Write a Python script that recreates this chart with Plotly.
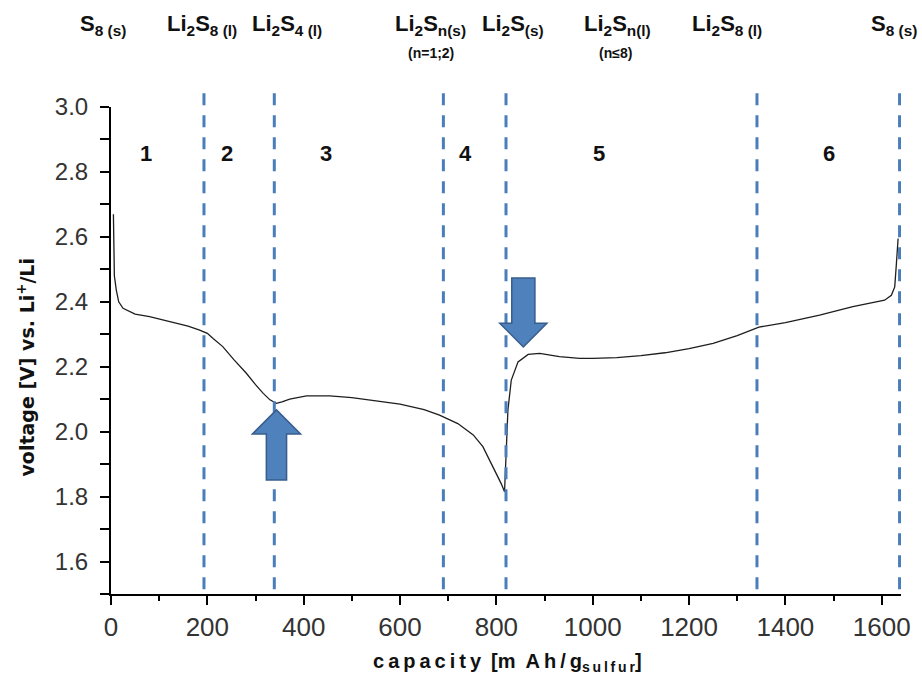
import plotly.graph_objects as go

# ---------------- data ----------------
capacity = [5, 5.5, 7, 11, 16, 25, 50, 80, 120, 160, 184, 200, 212, 232, 255, 281, 300, 316, 330,
            343, 355, 371, 406, 454, 500, 550, 600, 650, 682, 720, 752, 772, 793, 810, 817,
            819, 821, 824, 831, 845, 866, 890, 931, 973, 1000, 1050, 1100, 1150, 1200, 1250,
            1300, 1345, 1400, 1471, 1540, 1606, 1620, 1627, 1630, 1634]
voltage = [2.67, 2.55, 2.48, 2.436, 2.40, 2.38, 2.362, 2.354, 2.340, 2.325, 2.313, 2.303, 2.287,
           2.262, 2.222, 2.18, 2.145, 2.118, 2.098, 2.087, 2.092, 2.10, 2.11, 2.11, 2.105, 2.095,
           2.085, 2.068, 2.051, 2.025, 1.99, 1.954, 1.892, 1.84, 1.815, 1.90, 2.00, 2.067, 2.159,
           2.215, 2.238, 2.241, 2.231, 2.226, 2.226, 2.228, 2.234, 2.243, 2.256, 2.272, 2.296,
           2.322, 2.336, 2.359, 2.385, 2.405, 2.42, 2.446, 2.508, 2.595]

x_ticks = [0, 200, 400, 600, 800, 1000, 1200, 1400, 1600]
y_ticks = [1.6, 1.8, 2.0, 2.2, 2.4, 2.6, 2.8, 3.0]
x_range = [0, 1640]

boundaries = [193, 339, 690, 820, 1341, 1637]
region_labels = ["1", "2", "3", "4", "5", "6"]
region_x = [73, 240, 447, 736, 1014, 1490]
region_v = 2.858

species_labels = ["S<sub>8 (s)</sub>", "Li<sub>2</sub>S<sub>8 (l)</sub>", "Li<sub>2</sub>S<sub>4 (l)</sub>",
                  "Li<sub>2</sub>S<sub>n(s)</sub>", "Li<sub>2</sub>S<sub>(s)</sub>",
                  "Li<sub>2</sub>S<sub>n(l)</sub>", "Li<sub>2</sub>S<sub>8 (l)</sub>", "S<sub>8 (s)</sub>"]
species_x = [-17, 188, 365, 664, 834, 1052, 1279, 1625]
species_notes = ["(n=1;2)", "(n≤8)"]
species_notes_x = [664, 1048]

# arrows (capacity, voltage) geometry: centre, half shaft, half head, base, head base, tip
up_arrow = dict(xc=343.5, shaft=21, head=50, base=1.851, neck=1.993, tip=2.067)
down_arrow = dict(xc=856, shaft=24, head=49, base=2.473, neck=2.334, tip=2.261)

# ---------------- figure ----------------
fig = go.Figure()
fig.add_trace(go.Scatter(x=capacity, y=voltage, mode="lines",
                         line=dict(color="#1e1e1e", width=1.3), hoverinfo="skip",
                         showlegend=False))

shapes = []
for b in boundaries:
    shapes.append(dict(type="line", xref="x", yref="paper", x0=b, x1=b, y0=0.01, y1=1.045,
                       line=dict(color="#4a7ebb", width=3, dash="12px,10px"), layer="above"))


def arrow_path(a):
    xc, s, h = a["xc"], a["shaft"], a["head"]
    return (f"M {xc - s},{a['base']} L {xc - s},{a['neck']} L {xc - h},{a['neck']} "
            f"L {xc},{a['tip']} L {xc + h},{a['neck']} L {xc + s},{a['neck']} "
            f"L {xc + s},{a['base']} Z")


for a in (up_arrow, down_arrow):
    shapes.append(dict(type="path", xref="x", yref="y", path=arrow_path(a),
                       fillcolor="#4f81bd", line=dict(color="#385d8a", width=1.5),
                       layer="above"))


def to_paper(v):
    return (v - x_range[0]) / (x_range[1] - x_range[0])


annotations = []
bold_font = dict(family="Liberation Sans, Arial", size=22, color="#111111")
for lab, xv in zip(species_labels, species_x):
    annotations.append(dict(text=f"<b>{lab}</b>", x=to_paper(xv), y=1.168, xref="paper",
                            yref="paper", showarrow=False, xanchor="center", yanchor="middle",
                            font=bold_font))
for lab, xv in zip(species_notes, species_notes_x):
    annotations.append(dict(text=f"<b>{lab}</b>", x=to_paper(xv), y=1.110, xref="paper",
                            yref="paper", showarrow=False, xanchor="center", yanchor="middle",
                            font=dict(family="Liberation Sans, Arial", size=14, color="#111111")))
for lab, xv in zip(region_labels, region_x):
    annotations.append(dict(text=f"<b>{lab}</b>", x=xv, y=region_v, xref="x", yref="y",
                            showarrow=False, xanchor="center", yanchor="middle",
                            font=dict(family="Liberation Sans, Arial", size=22, color="#111111")))

ts = "\u2009"
xtitle = ts.join("capacity") + "\u2002" + "[m" + "\u2002" + ts.join("Ah/g") + \
    "<sub>" + ts.join("sulfur") + "</sub>]"
annotations.append(dict(text=f"<b>{xtitle}</b>", x=0.502, y=-0.14, xref="paper", yref="paper",
                        showarrow=False, xanchor="center", yanchor="middle",
                        font=dict(family="Liberation Sans, Arial", size=20, color="#111111")))
annotations.append(dict(text="<b>voltage [V] vs. Li<sup>+</sup>/Li</b>", x=-0.107, y=0.466,
                        xref="paper", yref="paper", textangle=-90, showarrow=False,
                        xanchor="center", yanchor="middle",
                        font=dict(family="DejaVu Sans", size=19, color="#111111")))

fig.update_layout(
    width=922, height=676, autosize=False,
    margin=dict(l=111, r=21, t=107, b=82),
    paper_bgcolor="white", plot_bgcolor="white",
    shapes=shapes, annotations=annotations,
    xaxis=dict(range=x_range, tickmode="array", tickvals=x_ticks,
               ticktext=[str(v) for v in x_ticks],
               showgrid=False, zeroline=False, showline=True, linecolor="black", linewidth=2,
               ticks="outside", ticklen=9, tickwidth=2, tickcolor="black",
               tickfont=dict(family="Liberation Sans, Arial", size=26, color="#333333"),
               minor=dict(dtick=100, tick0=0, ticks="outside", ticklen=5, tickwidth=2,
                          tickcolor="black", showgrid=False)),
    yaxis=dict(range=[1.5, 3.0], tickmode="array", tickvals=y_ticks,
               ticktext=[f"{v:.1f}" for v in y_ticks],
               showgrid=False, zeroline=False, showline=True, linecolor="black", linewidth=2,
               ticks="outside", ticklen=9, tickwidth=2, tickcolor="black",
               ticklabelstandoff=7,
               tickfont=dict(family="Liberation Sans, Arial", size=24, color="#333333"),
               minor=dict(dtick=0.1, tick0=1.5, ticks="outside", ticklen=9, tickwidth=2,
                          tickcolor="black", showgrid=False)),
)

fig.write_html("out.html")
